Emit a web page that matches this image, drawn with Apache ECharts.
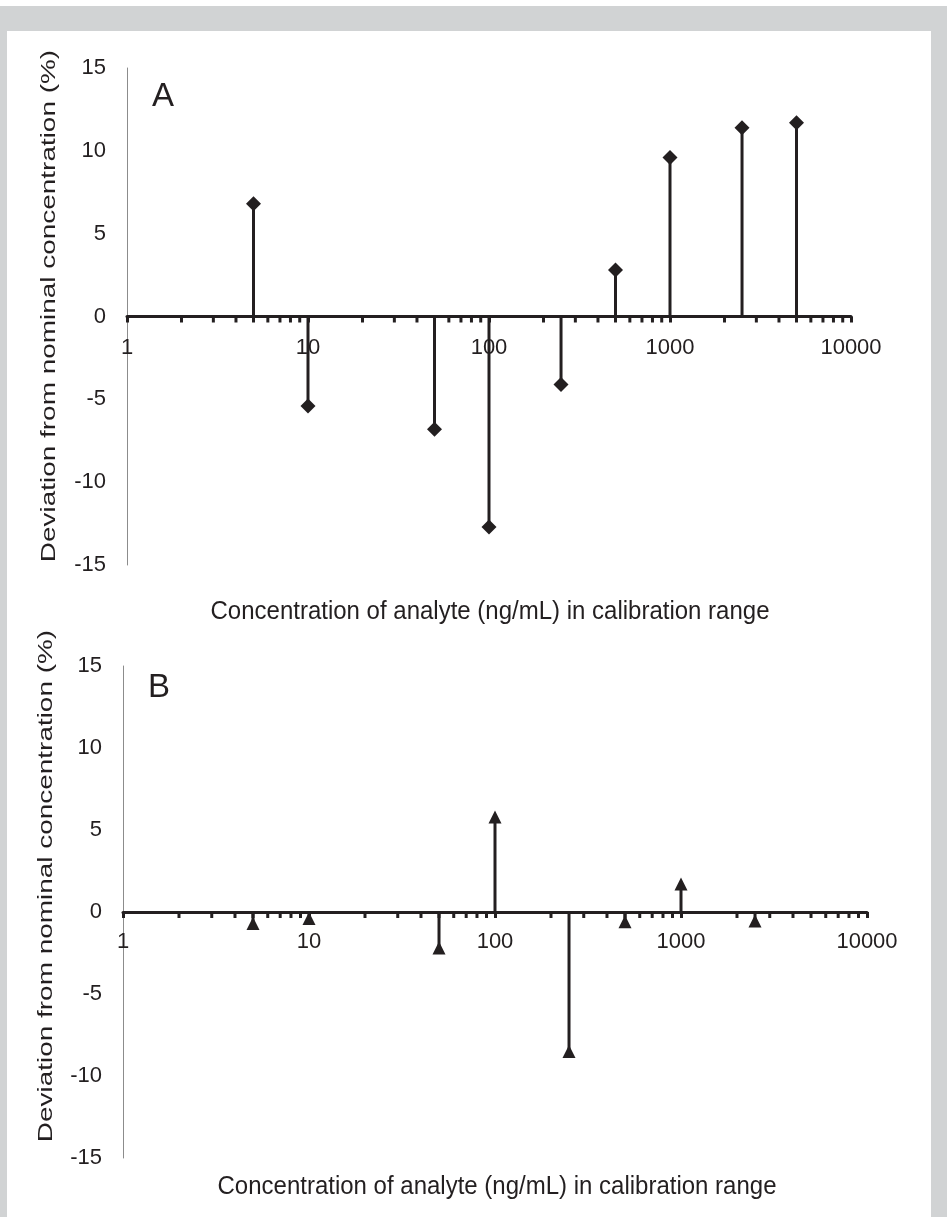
<!DOCTYPE html>
<html>
<head>
<meta charset="utf-8">
<script src="https://cdn.jsdelivr.net/npm/echarts@6/dist/echarts.min.js"></script>
<style>
  html, body { margin: 0; padding: 0; background: #ffffff; }
  #gray { position: absolute; left: 0; top: 6px; width: 947px; height: 1211px; background: #d1d3d4; }
  #panel { position: absolute; left: 7px; top: 31px; width: 924px; height: 1186px; background: #ffffff; }
  #chart { position: absolute; left: 0; top: 0; width: 947px; height: 1217px; }
</style>
</head>
<body>
<div id="gray"></div>
<div id="panel"></div>
<div id="chart"></div>
<script>
// ---- data ----
const concA = [5, 10, 50, 100, 250, 500, 1000, 2500, 5000];
const devA  = [6.8, -5.4, -6.8, -12.7, -4.1, 2.8, 9.6, 11.4, 11.7];
const concB = [5, 10, 50, 100, 250, 500, 1000, 2500];
const devB  = [-0.7, -0.4, -2.2, 5.8, -8.5, -0.6, 1.7, -0.55];
const panelLabels = ['A', 'B'];
const xTitle = 'Concentration of analyte (ng/mL) in calibration range';
const yTitle = 'Deviation from nominal concentration (%)';

// minor tick positions (2..9 of each decade)
const minorTicks = [];
for (let d = 1; d <= 1000; d *= 10) {
  for (let k = 2; k <= 9; k++) minorTicks.push([k * d, 0]);
}

const INK = '#231f20';
const FONT = 'Liberation Sans, Arial, sans-serif';

function pairs(xs, ys) { return xs.map((x, i) => [x, ys[i]]); }

function xAxisCfg(idx, labelMargin) {
  return {
    type: 'log', logBase: 10, min: 1, max: 10000, gridIndex: idx,
    axisLine: { show: true, onZero: true, lineStyle: { color: INK, width: 3 } },
    axisTick: { show: true, length: 6, inside: false, lineStyle: { color: INK, width: 3 } },
    axisLabel: { fontSize: 22, color: INK, margin: labelMargin, fontFamily: FONT,
                 formatter: function (v) { return String(Math.round(v)); } },
    splitLine: { show: false },
    minorTick: { show: false }
  };
}
function yAxisCfg(idx) {
  return {
    type: 'value', min: -15, max: 15, interval: 5, gridIndex: idx,
    axisLine: { show: true, onZero: false, lineStyle: { color: '#8c8c8c', width: 1 } },
    axisTick: { show: false },
    axisLabel: { fontSize: 22, color: INK, margin: 21, fontFamily: FONT },
    splitLine: { show: false }
  };
}

function stemSeries(idx, data) {
  return {
    type: 'custom', xAxisIndex: idx, yAxisIndex: idx, z: 3,
    data: data,
    renderItem: function (params, api) {
      const p0 = api.coord([api.value(0), 0]);
      const p1 = api.coord([api.value(0), api.value(1)]);
      return { type: 'line', shape: { x1: p0[0], y1: p0[1], x2: p1[0], y2: p1[1] },
               style: { stroke: INK, lineWidth: 3 } };
    }
  };
}
function minorTickSeries(idx) {
  return {
    type: 'custom', xAxisIndex: idx, yAxisIndex: idx, z: 1,
    data: minorTicks,
    renderItem: function (params, api) {
      const p = api.coord([api.value(0), 0]);
      return { type: 'line', shape: { x1: p[0], y1: p[1], x2: p[0], y2: p[1] + 6 },
               style: { stroke: INK, lineWidth: 3 } };
    }
  };
}
function markerSeries(idx, data, symbol, size) {
  return {
    type: 'scatter', xAxisIndex: idx, yAxisIndex: idx, z: 4,
    data: data, symbol: symbol, symbolSize: size,
    itemStyle: { color: INK, opacity: 1 },
    emphasis: { disabled: true }
  };
}

const chart = echarts.init(document.getElementById('chart'), null, { renderer: 'canvas' });
chart.setOption({
  backgroundColor: 'transparent',
  animation: false,
  grid: [
    { left: 127, top: 68, width: 724, height: 497 },
    { left: 123, top: 666, width: 744, height: 492 }
  ],
  xAxis: [xAxisCfg(0, -228), xAxisCfg(1, -227)],
  yAxis: [yAxisCfg(0), yAxisCfg(1)],
  series: [
    minorTickSeries(0),
    stemSeries(0, pairs(concA, devA)),
    markerSeries(0, pairs(concA, devA), 'diamond', [15, 15]),
    minorTickSeries(1),
    stemSeries(1, pairs(concB, devB)),
    markerSeries(1, pairs(concB, devB), 'triangle', [13, 13])
  ],
  graphic: [
    { type: 'text', left: 152, top: 80, style: { text: panelLabels[0], fontSize: 33, fill: INK, fontFamily: FONT } },
    { type: 'text', left: 148, top: 671, style: { text: panelLabels[1], fontSize: 33, fill: INK, fontFamily: FONT } },
    { type: 'text', x: 490, y: 612, scaleY: 1.08, style: { text: xTitle, fontSize: 24, fill: INK, fontFamily: FONT, align: 'center', verticalAlign: 'middle' } },
    { type: 'text', x: 497, y: 1187, scaleY: 1.08, style: { text: xTitle, fontSize: 24, fill: INK, fontFamily: FONT, align: 'center', verticalAlign: 'middle' } },
    { type: 'text', x: 49, y: 306, rotation: Math.PI / 2, scaleX: 1.33, style: { text: yTitle, fontSize: 21, fill: INK, fontFamily: FONT, align: 'center', verticalAlign: 'middle' } },
    { type: 'text', x: 46, y: 886, rotation: Math.PI / 2, scaleX: 1.33, style: { text: yTitle, fontSize: 21, fill: INK, fontFamily: FONT, align: 'center', verticalAlign: 'middle' } }
  ]
});
</script>
</body>
</html>
